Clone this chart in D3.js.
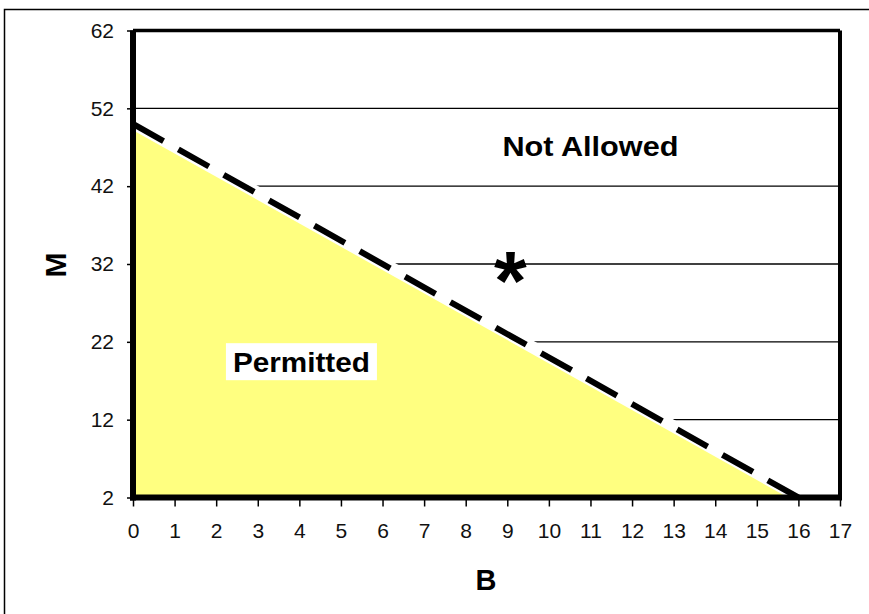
<!DOCTYPE html>
<html>
<head>
<meta charset="utf-8">
<script src="https://cdn.jsdelivr.net/npm/d3@7"></script>
<style>
  html, body { margin: 0; padding: 0; background: #fff; }
  svg { display: block; }
</style>
</head>
<body>
<script>
// Axis ticks
const bTicks = d3.range(0, 18);                 // B: 0..17
const mTicks = [2, 12, 22, 32, 42, 52, 62];     // M
// Horizontal reference levels
const gridLevels = [12, 22, 32, 42, 52];
// Boundary between permitted and not allowed regions (B, M)
const boundary = [[0, 50], [16, 2]];
// Permitted region (B, M)
const permitted = [[0, 2], [0, 49.2], [15.75, 2]];
// Marked point
const marker = { b: 9, m: 32 };
// Region labels
const regionLabels = [
  { text: "Not Allowed", b: 11.0, m: 45.9, len: 176 },
  { text: "Permitted", b: 4.05, m: 18.1, len: 137, boxed: true }
];

const W = 869, H = 614;
const svg = d3.select("body").append("svg").attr("width", W).attr("height", H);

const x = d3.scaleLinear().domain([0, 17]).range([133, 840]);
const y = d3.scaleLinear().domain([2, 62]).range([497.5, 30.5]);

// Outer frame
svg.append("rect").attr("x", 4.5).attr("y", 9.5).attr("width", 900).attr("height", 700)
  .attr("fill", "none").attr("stroke", "#000").attr("stroke-width", 1.5);

// Horizontal reference lines
svg.append("g").selectAll("line").data(gridLevels).join("line")
  .attr("x1", x(0)).attr("x2", x(17))
  .attr("y1", d => y(d)).attr("y2", d => y(d))
  .attr("stroke", "#000").attr("stroke-width", 1.4);

const line = d3.line().x(d => x(d[0])).y(d => y(d[1]));

// White band along the boundary
svg.append("path").attr("d", line(boundary))
  .attr("stroke", "#fff").attr("stroke-width", 14).attr("fill", "none");

// Permitted region
svg.append("path").attr("d", line(permitted) + "Z").attr("fill", "#ffff80");

// Dashed boundary
svg.append("path").attr("d", line(boundary))
  .attr("stroke", "#000").attr("stroke-width", 6).attr("fill", "none")
  .attr("stroke-dasharray", "35 17");

// Axes
const tickFont = "'Liberation Sans', Arial, sans-serif";
const xAxis = svg.append("g").attr("transform", `translate(0,${y(2)})`)
  .call(d3.axisBottom(x).tickValues(bTicks).tickSize(9).tickPadding(17).tickFormat(d3.format("d")));
const yAxis = svg.append("g").attr("transform", `translate(${x(0)},0)`)
  .call(d3.axisLeft(y).tickValues(mTicks).tickSize(6).tickPadding(13).tickFormat(d3.format("d")));
[xAxis, yAxis].forEach(g => {
  g.select(".domain").remove();
  g.selectAll(".tick line").attr("stroke", "#000").attr("stroke-width", 1.5);
  g.selectAll(".tick text").attr("fill", "#111")
    .style("font-family", tickFont).style("font-size", "21px");
});

// Plot frame: thin top/right, heavy left/bottom
svg.append("line").attr("x1", x(0)).attr("x2", x(17)).attr("y1", y(62)).attr("y2", y(62))
  .attr("stroke", "#000").attr("stroke-width", 3.5);
svg.append("line").attr("x1", x(17)).attr("x2", x(17)).attr("y1", y(62)).attr("y2", y(2))
  .attr("stroke", "#000").attr("stroke-width", 4);
svg.append("line").attr("x1", x(0)).attr("x2", x(0)).attr("y1", y(62)).attr("y2", y(2) + 3)
  .attr("stroke", "#000").attr("stroke-width", 6);
svg.append("line").attr("x1", x(0) - 3).attr("x2", x(17) + 2).attr("y1", y(2)).attr("y2", y(2))
  .attr("stroke", "#000").attr("stroke-width", 6);

const boldFont = "'Liberation Sans', Arial, sans-serif";

// Region labels
regionLabels.forEach(l => {
  const cx = x(l.b), cy = y(l.m);
  if (l.boxed) {
    svg.append("rect").attr("x", cx - l.len / 2 - 7).attr("y", cy - 29)
      .attr("width", l.len + 14).attr("height", 37).attr("fill", "#fff");
  }
  svg.append("text").attr("x", cx).attr("y", cy).attr("text-anchor", "middle")
    .attr("textLength", l.len).attr("lengthAdjust", "spacingAndGlyphs")
    .style("font-family", boldFont).style("font-weight", "bold").style("font-size", "28px")
    .text(l.text);
});

// Marked point
svg.append("text").attr("x", x(marker.b) + 3).attr("y", y(marker.m) + 46)
  .attr("text-anchor", "middle")
  .style("font-family", boldFont).style("font-weight", "bold").style("font-size", "84px")
  .text("*");

// Axis titles
svg.append("text").attr("x", 486).attr("y", 590).attr("text-anchor", "middle")
  .style("font-family", boldFont).style("font-weight", "bold").style("font-size", "29px")
  .text("B");
svg.append("text").attr("transform", "translate(66,265) rotate(-90)").attr("text-anchor", "middle")
  .style("font-family", boldFont).style("font-weight", "bold").style("font-size", "30px")
  .text("M");
</script>
</body>
</html>
